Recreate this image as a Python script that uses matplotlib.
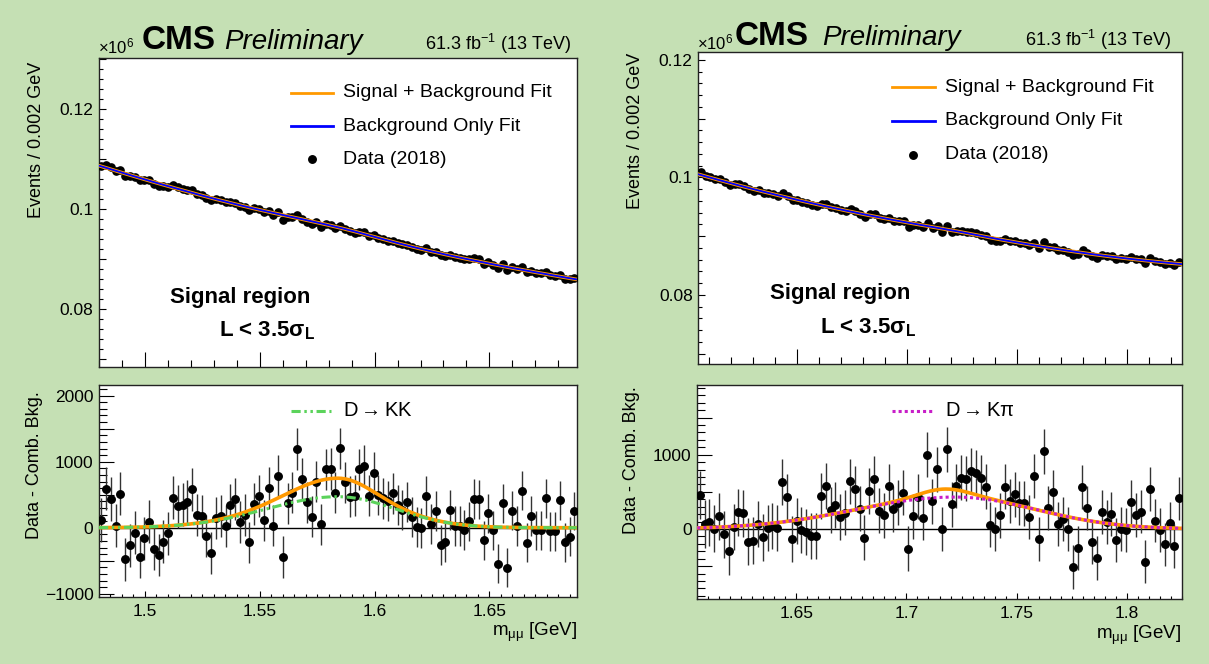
import numpy as np
import matplotlib
matplotlib.use("Agg")
import matplotlib.pyplot as plt
from matplotlib.ticker import MultipleLocator, FuncFormatter

plt.rcParams['font.family'] = ['Liberation Sans', 'DejaVu Sans']
plt.rcParams['mathtext.fontset'] = 'custom'
plt.rcParams['mathtext.rm'] = 'Liberation Sans'
plt.rcParams['mathtext.it'] = 'Liberation Sans:italic'
plt.rcParams['mathtext.bf'] = 'Liberation Sans:bold'

# ---------------- data ----------------
n_bins = 100
left_range = (1.48, 1.688)
right_range = (1.605, 1.825)

# Data - Comb. Bkg. (events per bin)
resid_left = [116, 591, 434, 30, 515, -480, -263, -76, -444, -157,
              91, -323, -414, -212, -86, 455, 323, 348, 394, 581,
              192, 177, -121, -389, 141, 177, 30, 343, 429, 81,
              192, -222, 359, 475, 111, 606, 30, 788, -444, 369,
              530, 1192, 737, 384, 167, 697, 56, 884, 889, 530,
              1202, 687, 470, 485, 884, 939, 485, 833, 495, 444,
              409, 520, 343, 268, 394, 167, 5, -5, 480, 56,
              253, -258, -222, 268, 25, 25, -35, 96, 439, 429,
              -192, 217, -40, -545, 369, -606, 258, 25, 561, -227,
              177, -40, -40, 444, -56, -56, 414, -222, -136, 253]

resid_right = [457, 67, 94, 4, 170, -72, -300, 27, 224, 211,
               -170, -157, 67, -112, 13, 45, 13, 632, 426, -130,
               103, -9, -45, -90, -99, 444, 578, 256, 327, 161,
               220, 641, 543, 274, -117, 511, 673, 247, 184, 574,
               269, 354, 489, -265, 170, 435, 148, 1000, 372,
               803, 0, 1076, 332, 578, 691, 677, 785, 758, 691,
               570, 58, 0, 184, 570, 377, 466, 354, 345, 166,
               709, -130, 1045, 278, 502, 63, 135, 0, -511, -260,
               570, 287, -175, -386, 224, 94, 197, -148, 4, -13,
               368, 188, 233, -439, 534, 112, -13, -206, 76, -229,
               413]

# combinatorial background (x10^6 events / bin), read at a few masses
comb_left_x = [1.481, 1.5036, 1.547, 1.5837, 1.6204, 1.6538, 1.688]
comb_left_y = [0.10873, 0.10531, 0.09975, 0.09577, 0.09200, 0.08876, 0.08591]
comb_right_x = [1.6057, 1.6326, 1.6674, 1.7144, 1.7544, 1.7892, 1.8231]
comb_right_y = [0.10088, 0.09736, 0.09411, 0.09092, 0.08876, 0.08683, 0.08500]

# fitted peak shapes: (amplitude, mean, sigma_left, sigma_right)
kk_shape = (470, 1.584, 0.031, 0.025)        # D -> KK
sig_left_shape = (280, 1.584, 0.020, 0.0145)
kpi_shape = (430, 1.722, 0.045, 0.037)       # D -> K pi
sig_right_shape = (110, 1.717, 0.011, 0.011)

ORANGE = '#ff9900'
BLUE = '#0000ff'
GREEN = '#5bd35b'
MAGENTA = '#c81ec8'
BG = '#c5e0b4'

W, H = 1209, 664


def bifur(x, shape):
    a, mu, sl, sr = shape
    s = np.where(x < mu, sl, sr)
    return a * np.exp(-0.5 * ((x - mu) / s) ** 2)


def fx(px):
    return px / W


def fy(py):
    return 1 - py / H


def axes_rect(l, t, r, b):
    return [l / W, 1 - b / H, (r - l) / W, (b - t) / H]


def label_every(step):
    def f(v, p):
        k = v / step
        if abs(k - round(k)) < 1e-6:
            s = '%g' % round(v, 6)
            return s.replace('-', '\u2212')
        return ''
    return FuncFormatter(f)


fig = plt.figure(figsize=(W / 100, H / 100), dpi=100)
fig.patch.set_facecolor(BG)

panels = [
    dict(rng=left_range, resid=resid_left, cx=comb_left_x, cy=comb_left_y,
         comp=kk_shape, sig=sig_left_shape, comp_color=GREEN,
         comp_ls=(0, (3.0, 1.2, 0.8, 1.2, 0.8, 1.2)), comp_label=r'D${\rightarrow}$KK',
         top=(99, 58.3, 576.7, 366.7), bot=(99, 385, 576.7, 596.7),
         ylim_top=(0.0685, 0.1302), ylim_bot=(-1045, 2162),
         hdr_y=49, x10_y=53, lumi_x=571, lumi_y=50.5, cms_x=141.7,
         prel_x=224, ylab_top=(37, 62), ylab_bot=(34.4, 391.7), xlab=(577, 636)),
    dict(rng=right_range, resid=resid_right, cx=comb_right_x, cy=comb_right_y,
         comp=kpi_shape, sig=sig_right_shape, comp_color=MAGENTA,
         comp_ls=(0, (1.0, 1.0)), comp_label=r'D${\rightarrow}$K$\mathrm{\pi}$',
         top=(698.3, 52.3, 1181.7, 364.3), bot=(697.3, 385, 1181.7, 599),
         ylim_top=(0.0682, 0.1213), ylim_bot=(-942, 1938),
         hdr_y=45, x10_y=49, lumi_x=1171, lumi_y=46.5, cms_x=735,
         prel_x=822, ylab_top=(635.6, 53), ylab_bot=(631.8, 386.7), xlab=(1181, 639)),
]

for P in panels:
    lo, hi = P['rng']
    edges = np.linspace(lo, hi, n_bins + 1)
    xc = 0.5 * (edges[1:] + edges[:-1])
    resid = np.array(P['resid'], dtype=float)
    coef = np.polyfit(P['cx'], P['cy'], 2)
    comb = np.polyval(coef, xc)
    data = comb + resid / 1e6
    err_top = np.sqrt(data * 1e6) / 1e6
    err_bot = np.sqrt(data * 1e6)

    xf = np.linspace(lo, hi, 600)
    comp_f = bifur(xf, P['comp'])
    tot_f = comp_f + bifur(xf, P['sig'])
    comb_f = np.polyval(coef, xf)

    # ---------- top panel ----------
    ax = fig.add_axes(axes_rect(*P['top']))
    ax.set_facecolor('white')
    ax.errorbar(xc, data, yerr=err_top, fmt='o', color='black', ms=5.2,
                elinewidth=0.9, capsize=0, zorder=3)
    ax.plot(xf, comb_f + tot_f / 1e6, color=ORANGE, lw=2.6, zorder=4)
    ax.plot(xf, comb_f + tot_f / 1e6, color=BLUE, lw=1.3, zorder=5)
    ax.set_xlim(lo, hi)
    ax.set_ylim(*P['ylim_top'])
    ax.yaxis.set_major_locator(MultipleLocator(0.01))
    ax.yaxis.set_minor_locator(MultipleLocator(0.002))
    ax.yaxis.set_major_formatter(label_every(0.02))
    ax.xaxis.set_major_locator(MultipleLocator(0.05))
    ax.xaxis.set_minor_locator(MultipleLocator(0.01))
    ax.tick_params(axis='x', which='both', direction='in', labelbottom=False)
    ax.tick_params(axis='x', which='major', length=10.8, width=0.8)
    ax.tick_params(axis='x', which='minor', length=5, width=0.8)
    ax.tick_params(axis='y', which='major', length=5, width=0.8, direction='in',
                   labelsize=12.5, pad=4)
    ax.tick_params(axis='y', which='minor', length=2.8, width=0.8, direction='in')
    for sp in ax.spines.values():
        sp.set_linewidth(1.0)
        sp.set_color('#222222')

    # legend
    ly = [0.888, 0.780, 0.672]
    ax.plot([0.401, 0.490], [ly[0]] * 2, color=ORANGE, lw=2.0, transform=ax.transAxes)
    ax.plot([0.401, 0.490], [ly[1]] * 2, color=BLUE, lw=2.0, transform=ax.transAxes)
    ax.plot([0.445], [ly[2]], 'o', color='black', ms=5.4, transform=ax.transAxes)
    for yy, t in zip(ly, ['Signal + Background Fit', 'Background Only Fit', 'Data (2018)']):
        ax.text(0.510, yy, t, transform=ax.transAxes, fontsize=14, va='center', ha='left')
    ax.text(0.148, 0.226, 'Signal region', transform=ax.transAxes, fontsize=16,
            fontweight='bold', va='center', ha='left')
    ax.text(0.252, 0.118, r'L < 3.5$\mathbf{\sigma_{L}}$', transform=ax.transAxes,
            fontsize=16, fontweight='bold', va='center', ha='left')

    # header
    l = P['top'][0]
    fig.text(fx(l - 1), fy(P['x10_y']), '\u00d710$^{6}$', fontsize=12, ha='left', va='baseline')
    fig.text(fx(P['cms_x']), fy(P['hdr_y']), 'CMS', fontsize=24, fontweight='bold',
             ha='left', va='baseline')
    fig.text(fx(P['prel_x']), fy(P['hdr_y']), 'Preliminary', fontsize=20, style='italic',
             ha='left', va='baseline')
    fig.text(fx(P['lumi_x']), fy(P['lumi_y']), '61.3 fb$^{-1}$ (13 TeV)', fontsize=13,
             ha='right', va='baseline')
    fig.text(fx(P['ylab_top'][0]), fy(P['ylab_top'][1]), 'Events / 0.002 GeV',
             fontsize=13, rotation=90, ha='center', va='top')

    # ---------- bottom panel ----------
    bx = fig.add_axes(axes_rect(*P['bot']))
    bx.set_facecolor('white')
    bx.axhline(0, color='black', lw=1.0, zorder=1)
    bx.errorbar(xc, resid, yerr=err_bot, fmt='o', color='black', ms=5.4,
                ecolor='#333333', elinewidth=1.0, capsize=0, zorder=3)
    bx.plot(xf, tot_f, color=ORANGE, lw=2.6, zorder=4)
    bx.plot(xf, comp_f, color=P['comp_color'], lw=2.2, ls=P['comp_ls'], zorder=5)
    bx.set_xlim(lo, hi)
    bx.set_ylim(*P['ylim_bot'])
    bx.yaxis.set_major_locator(MultipleLocator(500))
    bx.yaxis.set_minor_locator(MultipleLocator(100))
    bx.yaxis.set_major_formatter(label_every(1000))
    bx.xaxis.set_major_locator(MultipleLocator(0.05))
    bx.xaxis.set_minor_locator(MultipleLocator(0.005))
    bx.xaxis.set_major_formatter(FuncFormatter(lambda v, p: '%g' % round(v, 4)))
    bx.tick_params(axis='x', which='major', length=4.5, width=0.8, direction='in',
                   labelsize=12.5, pad=5)
    bx.tick_params(axis='x', which='minor', length=2.4, width=0.8, direction='in')
    bx.tick_params(axis='y', which='major', length=11, width=0.8, direction='in',
                   labelsize=12.5, pad=4)
    bx.tick_params(axis='y', which='minor', length=5.5, width=0.8, direction='in')
    for sp in bx.spines.values():
        sp.set_linewidth(1.0)
        sp.set_color('#222222')

    bx.plot([0.401, 0.486], [0.879, 0.879], color=P['comp_color'], lw=2.2,
            ls=P['comp_ls'], transform=bx.transAxes)
    bx.text(0.511, 0.879, P['comp_label'], transform=bx.transAxes, fontsize=14.5,
            va='center', ha='left')

    fig.text(fx(P['ylab_bot'][0]), fy(P['ylab_bot'][1]), 'Data - Comb. Bkg.',
             fontsize=13, rotation=90, ha='center', va='top')
    fig.text(fx(P['xlab'][0]), fy(P['xlab'][1]), r'm$_{\mathrm{\mu\mu}}$ [GeV]',
             fontsize=13.5, ha='right', va='baseline')

fig.savefig('out.png', dpi=100, facecolor=BG)
